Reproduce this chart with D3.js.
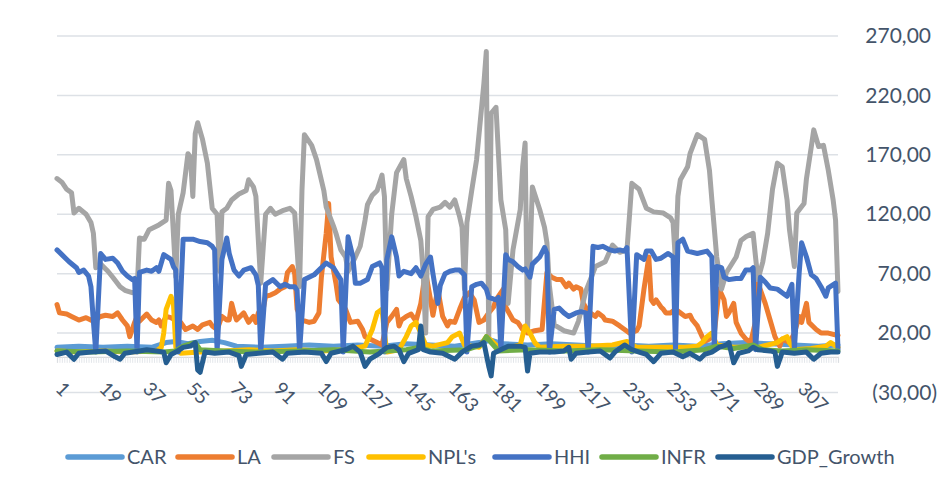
<!DOCTYPE html>
<html>
<head>
<meta charset="utf-8">
<script src="https://cdn.jsdelivr.net/npm/d3@7"></script>
<style>
  body { margin: 0; background: #fff; }
  svg { display: block; }
  text { font-family: Lato, "Open Sans", sans-serif; fill: #44546A; }
</style>
</head>
<body>
<div id="chart"></div>
<script>
// Series as [category, value] pairs

const categoryCount = 323;
const xTickLabels = [1, 19, 37, 55, 73, 91, 109, 127, 145, 163, 181, 199, 217, 235, 253, 271, 289, 307];
const yTickLabels = [-30, 20, 70, 120, 170, 220, 270];

const seriesNames = ["CAR", "LA", "FS", "NPL's", "HHI", "INFR", "GDP_Growth"];
const seriesColors = ["#5B9BD5", "#ED7D31", "#A5A5A5", "#FFC000", "#4472C4", "#70AD47", "#255E91"];

const CAR = [[1,8],[10,9],[20,8],[30,9],[40,8],[46,12],[50,13],[55,11],[60,13],[65,14],[70,12],[75,9],[85,8],[95,9],[105,10],[115,9],[125,10],[135,9],[145,11],[155,10],[165,9],[175,12],[180,14],[185,11],[195,10],[205,11],[215,10],[225,9],[235,10],[245,9],[255,10],[265,9],[275,11],[285,12],[295,11],[305,10],[315,9],[323,10]];

const LA = [[1,44],[2,37],[5,36],[7,34],[10,31],[13,33],[16,30],[19,34],[21,35],[24,34],[26,37],[28,31],[30,26],[31,17],[33,29],[34,34],[35,30],[38,36],[40,31],[42,29],[43,31],[44,26],[46,34],[48,33],[52,29],[54,23],[57,26],[59,23],[61,27],[64,29],[65,26],[67,23],[69,34],[71,31],[72,31],[73,45],[74,37],[75,31],[78,37],[80,29],[82,34],[83,29],[84,37],[85,26],[86,40],[87,51],[89,52],[91,54],[93,57],[95,59],[96,71],[98,76],[99,70],[100,40],[102,31],[105,29],[107,30],[109,37],[110,67],[112,104],[113,129],[114,84],[116,62],[117,48],[120,40],[122,29],[125,30],[127,23],[128,17],[130,15],[133,12],[135,10],[137,29],[139,34],[141,40],[142,26],[143,31],[145,34],[147,36],[149,30],[151,45],[152,59],[153,71],[155,48],[156,35],[158,57],[160,34],[162,26],[163,30],[165,29],[167,40],[169,50],[171,54],[173,48],[175,29],[177,31],[179,37],[181,42],[182,48],[185,57],[186,42],[189,31],[191,29],[193,23],[195,20],[198,22],[201,23],[203,71],[205,67],[207,65],[209,65],[211,59],[212,62],[214,57],[215,59],[217,57],[218,45],[220,38],[223,34],[224,37],[226,34],[227,31],[230,30],[233,26],[235,23],[237,20],[240,22],[241,26],[243,57],[245,84],[246,48],[247,45],[248,48],[250,42],[251,40],[252,37],[254,37],[256,40],[258,37],[260,34],[262,35],[263,31],[265,26],[267,17],[268,13],[270,15],[272,20],[274,57],[276,48],[277,34],[278,37],[280,45],[281,29],[283,20],[285,15],[287,12],[289,30],[290,62],[293,45],[295,31],[297,17],[299,9],[300,15],[303,12],[305,20],[307,34],[308,29],[310,45],[311,29],[314,23],[316,20],[319,20],[323,18]];

const FS = [[1,150],[3,147],[5,141],[7,138],[8,121],[10,125],[13,120],[15,113],[16,104],[17,75],[19,78],[22,72],[24,67],[27,59],[29,56],[32,54],[34,55],[35,100],[37,99],[39,107],[43,111],[46,115],[47,146],[48,140],[50,67],[51,120],[53,138],[55,171],[56,168],[57,135],[58,188],[59,197],[61,183],[63,163],[65,125],[67,120],[68,72],[69,122],[71,125],[73,132],[76,137],[79,140],[80,149],[82,143],[83,135],[85,62],[87,120],[89,125],[91,120],[94,123],[97,125],[99,121],[101,59],[102,140],[103,187],[106,178],[108,166],[111,140],[112,126],[115,110],[116,104],[118,90],[120,84],[121,72],[124,84],[126,93],[128,115],[129,128],[131,136],[133,140],[135,153],[136,135],[137,57],[139,120],[141,155],[144,166],[145,150],[147,135],[149,118],[151,98],[152,70],[153,20],[154,118],[156,124],[159,126],[161,130],[163,126],[165,132],[167,118],[168,109],[169,57],[170,113],[172,140],[174,166],[177,230],[178,257],[179,15],[180,205],[182,210],[183,171],[184,132],[186,107],[187,45],[189,90],[192,124],[193,160],[194,180],[195,23],[197,143],[200,124],[202,109],[203,96],[204,60],[206,27],[210,22],[214,20],[216,30],[219,55],[223,76],[227,80],[230,94],[233,88],[236,90],[238,146],[241,141],[244,125],[247,122],[251,121],[254,117],[255,113],[256,80],[257,135],[258,149],[261,160],[262,171],[265,187],[268,183],[270,157],[271,132],[273,84],[275,57],[277,71],[281,84],[283,98],[285,101],[288,104],[289,84],[290,65],[292,80],[294,104],[296,141],[298,163],[300,160],[302,132],[303,107],[305,76],[306,121],[309,129],[310,150],[312,177],[313,191],[315,177],[317,178],[319,157],[321,132],[322,115],[323,55]];

const NPL = [[1,5],[10,4],[20,5],[30,4],[42,5],[44,8],[45,20],[46,40],[48,51],[49,45],[50,8],[52,3],[60,4],[70,5],[80,6],[90,5],[100,6],[110,5],[120,6],[128,9],[131,23],[133,37],[135,40],[136,20],[137,4],[142,6],[145,17],[147,26],[149,29],[151,20],[153,10],[156,9],[162,12],[164,17],[167,20],[169,10],[175,8],[178,17],[180,14],[184,6],[192,10],[194,26],[196,20],[198,12],[200,8],[210,9],[220,9],[230,10],[236,13],[240,8],[250,8],[260,8],[265,9],[267,12],[269,17],[271,20],[273,10],[280,8],[290,8],[298,12],[300,15],[302,17],[303,12],[305,6],[312,7],[318,9],[320,12],[323,8]];

const HHI = [[1,90],[3,86],[6,80],[9,75],[10,71],[12,73],[14,68],[15,59],[16,30],[17,4],[19,87],[21,82],[24,83],[26,79],[28,72],[30,68],[32,65],[33,66],[34,4],[35,71],[38,73],[40,72],[42,75],[43,72],[45,86],[48,82],[49,76],[50,73],[51,4],[53,99],[57,99],[60,97],[63,96],[65,93],[66,90],[67,4],[69,82],[71,100],[72,87],[74,73],[76,68],[78,73],[81,75],[83,69],[84,60],[85,4],[87,61],[90,65],[93,59],[95,61],[97,59],[99,59],[100,56],[101,4],[103,65],[107,69],[109,73],[112,79],[115,75],[118,65],[119,4],[121,101],[123,84],[124,62],[126,62],[129,65],[131,76],[134,79],[135,75],[136,4],[137,82],[139,101],[141,84],[142,68],[144,72],[147,70],[149,75],[151,68],[153,78],[155,84],[156,70],[158,45],[159,60],[161,70],[163,72],[165,73],[167,73],[169,69],[170,4],[172,59],[174,61],[176,62],[178,57],[179,50],[182,48],[183,50],[184,6],[186,86],[187,82],[189,80],[191,76],[193,73],[194,74],[196,67],[197,78],[200,84],[202,92],[203,87],[204,4],[206,40],[208,41],[210,37],[212,34],[215,37],[217,38],[219,37],[220,4],[222,93],[224,92],[226,93],[229,90],[231,89],[233,90],[235,89],[236,92],[238,4],[240,86],[243,82],[244,89],[246,89],[248,82],[250,83],[253,87],[255,84],[256,6],[257,96],[259,99],[261,89],[265,87],[269,89],[271,84],[272,6],[273,76],[275,75],[276,67],[278,65],[281,66],[283,66],[285,73],[287,73],[288,75],[289,6],[291,67],[293,63],[295,58],[298,57],[300,54],[302,51],[304,61],[305,6],[307,71],[308,96],[310,84],[312,69],[314,66],[316,59],[318,51],[319,58],[322,62],[323,6]];

const INFR = [[1,5],[15,4],[30,5],[45,4],[50,5],[53,9],[56,11],[58,12],[60,6],[70,5],[85,4],[100,5],[115,6],[130,4],[145,6],[150,8],[155,5],[170,6],[176,10],[178,17],[180,12],[183,5],[195,6],[210,5],[225,6],[240,5],[255,4],[268,6],[273,9],[280,7],[288,10],[292,6],[300,5],[310,6],[323,5]];

const GDP = [[1,2],[5,4],[8,-2],[10,3],[15,4],[21,5],[25,0],[27,-2],[29,3],[35,5],[38,6],[42,5],[45,4],[46,-5],[48,2],[50,4],[53,8],[56,9],[58,12],[59,-11],[60,-13],[62,4],[66,3],[72,4],[76,1],[77,-8],[79,2],[84,3],[90,4],[94,-2],[96,3],[103,4],[110,3],[112,-4],[114,3],[120,6],[123,9],[126,4],[128,-8],[130,-2],[134,3],[137,8],[140,9],[142,6],[144,-4],[146,3],[150,6],[151,26],[152,6],[155,4],[160,3],[165,-2],[168,4],[172,9],[175,10],[177,12],[179,-8],[180,-16],[181,3],[185,7],[187,9],[192,9],[194,8],[195,-12],[196,3],[200,4],[206,4],[210,5],[212,8],[213,-2],[215,3],[220,4],[225,5],[229,-1],[231,4],[235,10],[238,6],[241,4],[244,2],[247,-4],[250,3],[255,4],[259,0],[262,3],[266,-2],[268,2],[271,4],[274,8],[277,10],[278,12],[280,-5],[282,3],[286,5],[288,8],[290,6],[295,5],[297,4],[298,-8],[300,4],[305,3],[310,4],[313,-2],[316,3],[320,4],[323,4]];

const seriesData = [CAR, LA, FS, NPL, HHI, INFR, GDP];

// Layout

const width = 945;
const height = 491;
const plot = { left: 57, right: 838, top: 36, bottom: 392.5 };
const legendX = [68, 178, 274, 369, 495, 602, 718];

const svg = d3.select("#chart")
    .append("svg")
    .attr("width", width)
    .attr("height", height);

const categories = d3.range(1, categoryCount + 1);

const x = d3.scaleLinear()
    .domain([1, categoryCount])
    .range([plot.left, plot.right]);

const y = d3.scaleLinear()
    .domain([-30, 270])
    .range([plot.bottom, plot.top]);

// gridlines
svg.append("g")
    .selectAll("line")
    .data(yTickLabels)
    .enter()
    .append("line")
    .attr("x1", plot.left)
    .attr("x2", plot.right)
    .attr("y1", d => y(d))
    .attr("y2", d => y(d))
    .attr("stroke", "#DDE1E6")
    .attr("stroke-width", 1.5);

// category axis at zero, with a tick for every category
const xAxisZero = svg.append("g")
    .attr("transform", "translate(0," + y(0) + ")")
    .call(d3.axisBottom(x).tickValues(categories).tickSize(6).tickFormat(""));
xAxisZero.select(".domain").attr("stroke", "#D9D9D9").attr("stroke-width", 1.2);
xAxisZero.selectAll(".tick line").attr("stroke", "#DCDFE5").attr("stroke-width", 0.8);

// category labels sit low, under the plot
const xAxisLabels = svg.append("g")
    .attr("transform", "translate(0," + 390 + ")")
    .call(d3.axisBottom(x).tickValues(xTickLabels).tickSize(0));
xAxisLabels.select(".domain").remove();
xAxisLabels.selectAll("text")
    .attr("x", 0)
    .attr("y", 0)
    .attr("dy", 0)
    .attr("transform", "translate(-3,0) rotate(45)")
    .style("text-anchor", "start")
    .style("font-size", "19px")
    .style("font-family", "Lato, sans-serif")
    .attr("fill", "#44546A");

// value axis on the right
function formatValue(v) {
    const s = d3.format(".2f")(Math.abs(v)).replace(".", ",");
    return v < 0 ? "(" + s + ")" : s;
}

const yAxis = svg.append("g")
    .attr("transform", "translate(" + plot.right + ",0)")
    .call(d3.axisRight(y).tickValues(yTickLabels).tickSize(0).tickFormat(formatValue));
yAxis.select(".domain").remove();
yAxis.selectAll("text")
    .attr("x", d => d < 0 ? 99 : 93)
    .style("text-anchor", "end")
    .style("font-size", "21px")
    .style("font-family", "Lato, sans-serif")
    .attr("fill", "#44546A");

// lines
const line = d3.line()
    .x(d => x(d[0]))
    .y(d => y(d[1]));

svg.append("g")
    .selectAll("path")
    .data(seriesData)
    .enter()
    .append("path")
    .attr("d", line)
    .attr("fill", "none")
    .attr("stroke", (d, i) => seriesColors[i])
    .attr("stroke-width", 5)
    .attr("stroke-linejoin", "round")
    .attr("stroke-linecap", "round");

// legend
const legend = svg.append("g")
    .selectAll("g")
    .data(seriesNames)
    .enter()
    .append("g")
    .attr("transform", (d, i) => "translate(" + legendX[i] + ",457)");

legend.append("line")
    .attr("x1", 0)
    .attr("x2", 54)
    .attr("stroke", (d, i) => seriesColors[i])
    .attr("stroke-width", 5.5)
    .attr("stroke-linecap", "round");

legend.append("text")
    .attr("x", 59)
    .attr("y", 7)
    .style("font-size", "20px")
    .text(d => d);
</script>
</body>
</html>
